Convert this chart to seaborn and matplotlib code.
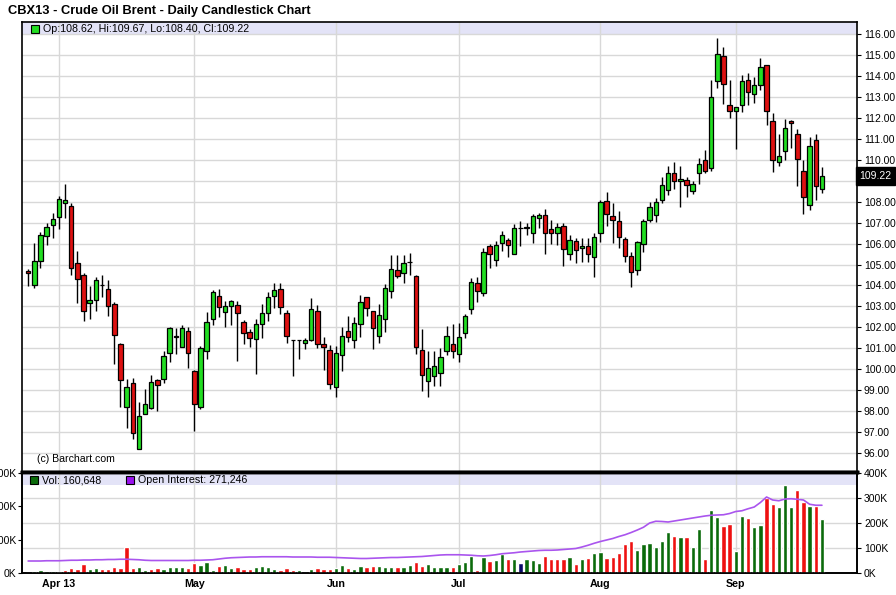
import numpy as np
import pandas as pd
import matplotlib
matplotlib.use("Agg")
import matplotlib.pyplot as plt
import matplotlib.ticker as mtick
from matplotlib.patches import Rectangle
import seaborn as sns

# CBX13 daily bars, one per weekday from 2013-03-25
start_date = "2013-03-25"

opens = [
    104.68, 104.00, 105.16, 106.38, 106.90, 107.29, 107.94, 107.78, 105.05, 104.52,
    103.14, 103.33, 104.03, 103.81, 103.10, 101.19, 98.19, 99.33, 96.19, 97.89,
    98.13, 99.51, 99.52, 100.79, 101.56, 101.06, 101.81, 99.92, 98.22, 100.89,
    102.40, 103.49, 102.75, 103.03, 103.06, 102.27, 101.76, 101.44, 102.16, 102.68,
    103.49, 103.83, 102.68, 101.40, 101.40, 101.27, 101.40, 102.79, 101.21, 100.94,
    99.17, 100.70, 101.84, 101.40, 102.16, 103.46, 102.78, 101.61, 102.38, 103.74,
    104.72, 104.58, 105.12, 104.45, 100.94, 99.46, 99.70, 99.83, 100.86, 101.22,
    100.75, 101.71, 102.86, 104.13, 103.66, 105.86, 105.20, 106.04, 106.15, 105.52,
    106.73, 106.73, 106.52, 107.22, 107.38, 106.71, 106.51, 106.86, 105.48, 106.14,
    105.80, 105.90, 105.38, 106.48, 108.02, 107.30, 107.06, 106.24, 105.40, 104.76,
    106.00, 107.14, 107.38, 108.10, 108.57, 109.37, 108.97, 109.05, 108.52, 109.37,
    110.00, 109.60, 113.76, 114.95, 112.62, 112.33, 112.62, 113.81, 113.14, 113.57,
    114.52, 111.83, 109.87, 110.40, 111.83, 111.24, 109.48, 107.86, 110.92, 108.62,
]
highs = [
    104.80, 106.03, 106.54, 106.98, 107.46, 108.25, 108.84, 107.94, 105.63, 104.60,
    103.97, 104.40, 104.52, 104.25, 103.22, 101.24, 99.52, 99.57, 98.44, 99.05,
    99.73, 99.52, 100.87, 102.02, 101.98, 102.10, 102.02, 99.95, 101.13, 102.75,
    103.78, 103.83, 103.27, 103.32, 103.27, 102.35, 101.92, 102.40, 103.11, 103.67,
    104.14, 104.14, 102.83, 101.42, 101.42, 101.49, 103.40, 103.08, 101.52, 101.14,
    101.13, 102.00, 102.56, 102.51, 103.56, 103.46, 102.80, 103.10, 104.05, 105.46,
    105.44, 105.44, 105.54, 104.48, 101.93, 100.86, 100.86, 101.02, 102.06, 102.14,
    102.22, 102.65, 104.37, 104.42, 105.81, 105.97, 106.10, 106.60, 106.28, 106.92,
    107.08, 107.00, 107.43, 107.46, 107.67, 107.10, 106.98, 106.98, 106.40, 106.27,
    106.27, 106.27, 106.51, 108.10, 108.44, 107.94, 107.54, 106.30, 105.59, 106.14,
    107.19, 107.98, 108.17, 109.16, 109.68, 109.89, 109.68, 109.16, 108.97, 110.08,
    110.44, 113.81, 115.79, 115.40, 113.81, 112.52, 114.05, 114.13, 113.94, 114.87,
    114.52, 112.22, 111.22, 111.95, 111.90, 111.48, 110.00, 111.06, 111.24, 109.67,
]
lows = [
    103.97, 103.86, 104.84, 105.95, 106.27, 106.71, 107.22, 104.49, 103.17, 102.30,
    102.38, 102.78, 103.44, 102.54, 100.27, 98.22, 97.19, 96.67, 96.19, 97.86,
    98.10, 98.02, 99.33, 100.37, 100.71, 101.06, 100.08, 97.06, 98.11, 100.49,
    102.13, 102.51, 102.03, 102.13, 100.41, 101.21, 101.08, 99.78, 101.48, 102.29,
    102.92, 102.63, 101.24, 99.70, 100.49, 100.97, 101.37, 101.02, 99.97, 99.06,
    98.70, 99.94, 101.29, 101.00, 101.52, 102.54, 100.99, 101.26, 101.79, 103.38,
    104.37, 104.13, 104.48, 100.74, 98.95, 98.66, 99.19, 99.19, 100.70, 100.54,
    100.35, 101.47, 102.62, 103.21, 103.50, 104.85, 104.93, 105.64, 105.36, 105.48,
    105.88, 106.40, 106.04, 106.75, 105.51, 106.00, 105.95, 104.95, 105.21, 105.08,
    105.11, 105.11, 104.41, 106.08, 106.83, 106.03, 105.79, 105.13, 103.92, 104.48,
    105.60, 107.03, 107.03, 107.94, 108.30, 108.62, 107.75, 108.22, 108.38, 108.84,
    109.37, 109.44, 113.41, 112.65, 111.98, 110.52, 112.27, 112.62, 112.70, 113.33,
    111.67, 109.40, 109.68, 110.00, 110.56, 108.73, 107.41, 107.62, 108.10, 108.40,
]
closes = [
    104.60, 105.19, 106.43, 106.78, 107.19, 108.14, 108.10, 104.81, 104.29, 102.78,
    103.33, 104.24, 104.00, 103.00, 101.62, 99.48, 99.17, 96.98, 97.75, 98.33,
    99.41, 99.25, 100.62, 101.95, 101.55, 101.95, 100.76, 98.33, 101.02, 102.27,
    103.70, 102.95, 103.00, 103.25, 102.68, 101.73, 101.49, 102.16, 102.68, 103.44,
    103.78, 102.97, 101.59, 101.40, 101.40, 101.40, 102.86, 101.21, 101.08, 99.30,
    100.76, 101.59, 101.56, 102.21, 103.22, 102.92, 101.95, 102.59, 103.86, 104.77,
    104.44, 105.06, 105.12, 101.07, 99.75, 100.07, 100.18, 100.58, 101.61, 100.86,
    101.55, 102.54, 104.18, 103.74, 105.62, 105.49, 105.92, 106.39, 105.91, 106.73,
    106.73, 106.80, 107.32, 107.34, 106.51, 106.48, 106.79, 105.76, 106.19, 105.67,
    105.90, 105.52, 106.33, 107.97, 107.43, 107.10, 106.32, 105.40, 104.65, 106.08,
    107.06, 107.76, 107.98, 108.78, 109.37, 108.97, 109.08, 108.78, 108.86, 109.81,
    109.48, 112.97, 115.05, 113.62, 112.33, 112.52, 113.76, 113.25, 113.57, 114.44,
    112.33, 110.00, 110.19, 111.51, 111.73, 110.03, 108.21, 110.63, 108.76, 109.22,
]

# volume in thousands, with the day's direction (u = up, d = down, n = unchanged)
volume_k = [
    0, 7, 10, 7, 7, 4, 10, 16, 13, 28,
    13, 16, 13, 13, 19, 16, 79, 16, 19, 10,
    13, 16, 13, 19, 19, 19, 16, 31, 25, 34,
    10, 22, 25, 16, 19, 13, 13, 19, 22, 19,
    13, 10, 16, 10, 10, 0, 13, 16, 13, 13,
    16, 25, 16, 13, 22, 19, 22, 22, 19, 19,
    19, 19, 25, 34, 22, 28, 19, 19, 19, 19,
    28, 34, 50, 10, 48, 37, 40, 57, 43, 43,
    31, 43, 40, 31, 52, 43, 43, 43, 49, 28,
    43, 46, 61, 64, 46, 49, 61, 88, 97, 70,
    88, 91, 79, 97, 124, 112, 109, 109, 79, 133,
    43, 190, 169, 142, 148, 67, 172, 166, 139, 145,
    225, 208, 199, 263, 199, 250, 213, 202, 202, 161,
]
vol_dir = list(
    "duuuuudddd" "uudddddduu" "dduuuudduu" "uduuddduuu" "uddduuuddd"
    "uuduudduuu" "duudduuuud" "uuududuudu" "nuuuddddud" "uduudddddu"
    "uuuuududuu" "duudduuduu" "dduuuddudu"
)
open_int_k = [
    48, 48, 48, 49, 49, 49, 50, 51, 51, 52,
    52, 53, 53, 54, 54, 55, 55, 54, 53, 51,
    50, 50, 50, 50, 50, 50, 50, 51, 51, 52,
    53, 56, 59, 61, 62, 63, 64, 64, 65, 65,
    65, 65, 65, 64, 64, 64, 64, 63, 63, 63,
    62, 61, 60, 59, 58, 58, 59, 60, 61, 62,
    62, 63, 64, 65, 66, 68, 70, 72, 73, 73,
    73, 72, 71, 69, 68, 70, 73, 77, 79, 81,
    84, 86, 88, 90, 91, 91, 92, 94, 96, 98,
    104, 111, 119, 126, 132, 138, 146, 153, 162, 172,
    183, 200, 207, 206, 204, 208, 212, 216, 220, 224,
    228, 231, 232, 233, 238, 246, 249, 257, 264, 282,
    304, 292, 289, 296, 297, 295, 292, 275, 271, 271,
]
last_vol = 160648
last_oi = 271246

GREEN = "#22dd22"
RED = "#dd1111"
VGREEN = "#0b6b0b"
VRED = "#ee1111"
NAVY = "#0a0a6a"
OI_COL = "#aa55ee"
BAND = "#e3e3f7"
GRID = "#d8d8d8"

sns.set_theme(style="white", rc={"text.color": "black", "axes.edgecolor": "black",
                                 "xtick.color": "black", "ytick.color": "black"})
plt.rcParams["font.family"] = ["Liberation Sans", "DejaVu Sans"]

W, H = 896, 595
fig = plt.figure(figsize=(W / 100, H / 100), dpi=100)
ax = fig.add_axes([22 / W, 1 - 472 / H, 835 / W, 450 / H])
axv = fig.add_axes([22 / W, 1 - 573 / H, 835 / W, 101 / H], sharex=ax)

idx = np.arange(len(closes))
o, h, l, c = map(np.array, (opens, highs, lows, closes))
dates = pd.bdate_range(start_date, periods=len(closes))
month_idx = np.flatnonzero(np.diff(dates.month) != 0) + 1
month_lbl = [f"{dates[i]:%b %y}" if k == 0 else f"{dates[i]:%b}" for k, i in enumerate(month_idx)]

# candles
ax.vlines(idx, l, h, color="black", lw=1, zorder=3)
body = np.maximum(np.abs(c - o), 0.02)
ax.bar(idx, body, bottom=np.minimum(o, c), width=0.72,
       color=np.where(c >= o, GREEN, RED), edgecolor="black", lw=0.9, zorder=4)

ax.set_ylim(95.1, 116.57)
ax.set_yticks(np.arange(96, 117))
ax.yaxis.set_major_formatter(mtick.FormatStrFormatter("%.2f"))
ax.tick_params(axis="y", left=False, right=True, labelleft=False, labelright=True,
               labelsize=7.5, length=3, width=0.8, pad=2)
ax.set_xticks(month_idx)
ax.tick_params(axis="x", bottom=False, labelbottom=False)
ax.grid(True, color=GRID, lw=1)
ax.set_axisbelow(True)
for s in ax.spines.values():
    s.set_color("black")
    s.set_linewidth(1.2)
ax.spines["bottom"].set_linewidth(2.5)

ax.add_patch(Rectangle((0, 1 - 13 / 450), 1, 13 / 450, transform=ax.transAxes,
                       color=BAND, lw=0, zorder=0.4))
ax.plot([0.0156], [0.984], marker="s", ms=6, mfc=GREEN, mec="black", mew=0.8,
        transform=ax.transAxes, clip_on=False, zorder=5)
ax.text(0.0251, 0.984, f"Op:{opens[-1]:.2f}, Hi:{highs[-1]:.2f}, Lo:{lows[-1]:.2f}, Cl:{closes[-1]:.2f}",
        transform=ax.transAxes, fontsize=7.7, va="center", ha="left")
ax.text(0.018, 0.029, "(c) Barchart.com", transform=ax.transAxes, fontsize=7.6, va="center")
ax.text(1.003, closes[-1], f"{closes[-1]:.2f}", transform=ax.get_yaxis_transform(),
        fontsize=7.5, color="white", va="center", ha="left", zorder=10,
        bbox=dict(boxstyle="square,pad=0.35", fc="black", ec="black"))

fig.text(8 / W, 1 - 11 / H, "CBX13 - Crude Oil Brent - Daily Candlestick Chart",
         fontsize=9.3, fontweight="bold", va="center", ha="left")

# volume + open interest
vol_df = pd.DataFrame({"idx": idx, "vol": volume_k, "dir": vol_dir})
sns.barplot(data=vol_df, x="idx", y="vol", hue="dir", native_scale=True, dodge=False,
            palette={"u": VGREEN, "d": VRED, "n": NAVY}, width=0.7, saturation=1,
            errorbar=None, legend=False, ax=axv, zorder=3)
axv.set_xlabel("")
axv.set_ylabel("")
vol_top, oi_top = 303, 404
axv.set_ylim(0, vol_top)
axv.set_yticks([0, 100, 200, 300])
axv.yaxis.set_major_formatter(mtick.FuncFormatter(lambda v, _: f"{int(v)}K"))
axv.tick_params(axis="y", left=True, labelsize=7.5, length=3, width=0.8, pad=1)
axv.set_xticks(month_idx)
axv.set_xticklabels(month_lbl, fontweight="bold", fontsize=7.7)
axv.tick_params(axis="x", bottom=False, length=0, pad=4.5)
axv.grid(True, axis="x", color=GRID, lw=1)
axv.set_axisbelow(True)
for t in [100, 200, 300]:
    axv.axhline(t * vol_top / oi_top, color=GRID, lw=1, zorder=0.5)
axv.add_patch(Rectangle((0, 1 - 13 / 101), 1, 13 / 101, transform=axv.transAxes,
                        color=BAND, lw=0, zorder=0.4))

axo = axv.twinx()
sns.lineplot(x=idx, y=open_int_k, ax=axo, color=OI_COL, lw=1.2)
axo.set_ylim(0, oi_top)
axo.set_yticks([0, 100, 200, 300, 400])
axo.yaxis.set_major_formatter(mtick.FuncFormatter(lambda v, _: f"{int(v)}K"))
axo.tick_params(axis="y", right=True, labelsize=7.5, length=3, width=0.8, pad=2)
for a in (axv, axo):
    for s in a.spines.values():
        s.set_color("black")
        s.set_linewidth(1.2)
    a.spines["top"].set_linewidth(2.5)

axv.plot([0.0145], [0.92], marker="s", ms=6, mfc=VGREEN, mec="black", mew=0.8,
         transform=axv.transAxes, clip_on=False, zorder=5)
axv.text(0.024, 0.92, f"Vol: {last_vol:,}", transform=axv.transAxes,
         fontsize=7.7, va="center", ha="left", zorder=5)
axv.plot([0.1295], [0.92], marker="s", ms=6, mfc="#9911ee", mec="black", mew=0.8,
         transform=axv.transAxes, clip_on=False, zorder=5)
axv.text(0.139, 0.92, f"Open Interest: {last_oi:,}", transform=axv.transAxes,
         fontsize=7.7, va="center", ha="left", zorder=5)

ax.set_xlim(-1.0, 134.7)

fig.savefig("out.png", dpi=100)
